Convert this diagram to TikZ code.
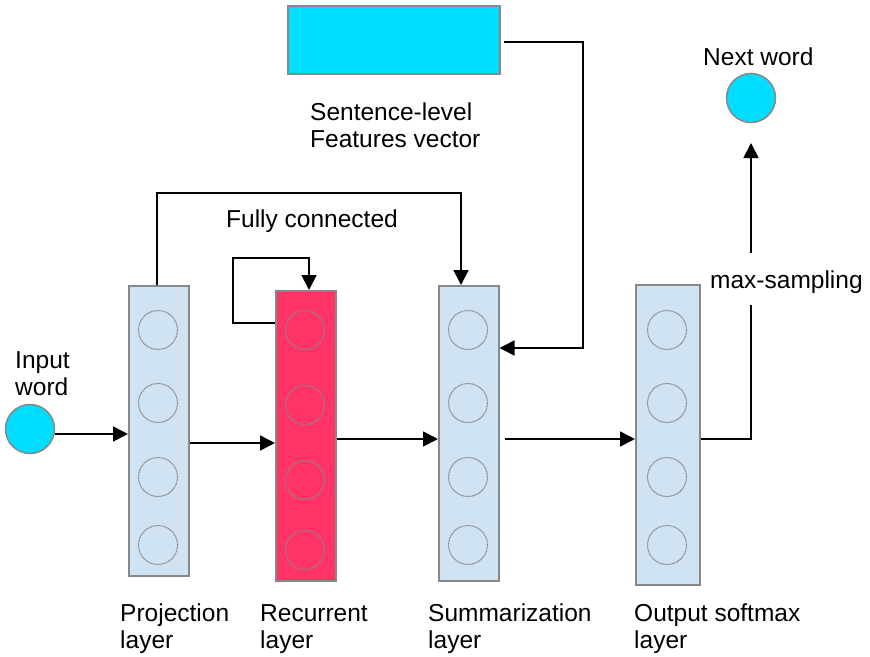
\documentclass[tikz,border=0pt]{standalone}
\usepackage{fontspec}
\setmainfont{Liberation Sans}
\usetikzlibrary{arrows.meta}
\definecolor{lblue}{RGB}{207,227,242}
\definecolor{rred}{RGB}{255,51,102}
\definecolor{cyanf}{RGB}{0,221,255}
\definecolor{bord}{RGB}{136,136,136}
\begin{document}
\begin{tikzpicture}[x=1pt,y=-1pt,
  layerbox/.style={draw=bord, line width=1.5pt, fill=lblue, inner sep=0pt, anchor=north west},
  neuron/.style={circle, draw=bord, line width=1.1pt, dash pattern=on 1pt off 0.6pt, minimum size=39pt, inner sep=0pt},
  wordnode/.style={circle, draw=bord, line width=1.5pt, fill=cyanf, minimum size=49pt, inner sep=0pt},
  lbl/.style={font=\fontsize{24.5}{27}\selectfont, align=left, inner sep=0pt, anchor=base west},
  conn/.style={line width=1.7pt, -{Triangle[length=15pt,width=15pt]}},
  plain/.style={line width=1.7pt}
]
\useasboundingbox (0,0) rectangle (870,656);

% layers
\node[layerbox, minimum width=60pt, minimum height=290pt] (proj) at (128,285) {};
\node[layerbox, fill=rred, minimum width=60pt, minimum height=290pt] (rec) at (275,290) {};
\node[layerbox, minimum width=60pt, minimum height=295pt] (summ) at (438,285) {};
\node[layerbox, minimum width=64pt, minimum height=300pt] (out) at (635,284) {};

% neurons
\foreach \i/\y in {1/330,2/403,3/477,4/545}{
  \node[neuron] (p\i) at (158,\y) {};
  \node[neuron] (s\i) at (468,\y) {};
}
\foreach \i/\y in {1/330,2/405,3/480,4/550}{
  \node[neuron] (r\i) at (305,\y) {};
}
\foreach \i/\y in {1/330,2/403,3/477,4/545}{
  \node[neuron] (o\i) at (667,\y) {};
}

% feature vector
\node[draw=bord, line width=1.5pt, fill=cyanf, minimum width=212pt, minimum height=68pt, inner sep=0pt, anchor=north west] (feat) at (287,5) {};

% word nodes
\node[wordnode] (input) at (30,429) {};
\node[wordnode] (next) at (751,98) {};

% texts (base = last line baseline)
\node[lbl] (tin) at (15,395) {Input\\word};
\node[lbl] (tnext) at (703,65) {Next word};
\node[lbl] (tfc) at (226,227) {Fully connected};
\node[lbl] (tfeat) at (310,147) {Sentence-level\\Features vector};
\node[lbl] (tmax) at (710,288) {max-sampling};
\node[lbl] (tproj) at (120,648) {Projection\\layer};
\node[lbl] (trec) at (260,648) {Recurrent\\layer};
\node[lbl] (tsum) at (428,648) {Summarization\\layer};
\node[lbl] (tout) at (634,648) {Output softmax\\layer};

% helper coordinates
\coordinate (y434) at (0,434);
\coordinate (y443) at (0,443);
\coordinate (y439) at (0,439);
\coordinate (y348) at (0,348);
\coordinate (y323) at (0,323);
\coordinate (y42) at (0,42);
\coordinate (x157) at (157,0);
\coordinate (x461) at (461,0);
\coordinate (x309) at (309,0);
\coordinate (cA) at (157,193);
\coordinate (cB) at (461,193);
\coordinate (lA) at (233,323);
\coordinate (lB) at (233,258);
\coordinate (lC) at (309,258);
\coordinate (fA) at (583,42);
\coordinate (fB) at (583,348);
\coordinate (mA) at (751,439);
\coordinate (mB) at (751,305);
\coordinate (mC) at (751,253);
\coordinate (mD) at (751,143);

% connectors
\draw[conn] (input.east |- y434) -- (proj.west |- y434);
\draw[conn] (proj.east |- y443) -- (rec.west |- y443);
\draw[conn] (rec.east |- y439) -- (summ.west |- y439);
\draw[conn, shorten <=5pt] (summ.east |- y439) -- (out.west |- y439);
\draw[plain] (out.east |- y439) -- (mA) -- (mB);
\draw[conn] (mC) -- (mD);
\draw[conn] (proj.north -| x157) -- (cA) -- (cB) -- (summ.north -| x461);
\draw[conn] (rec.west |- y323) -- (lA) -- (lB) -- (lC) -- (rec.north -| x309);
\draw[conn, shorten <=3pt] (feat.east |- y42) -- (fA) -- (fB) -- (summ.east |- y348);
\end{tikzpicture}
\end{document}
